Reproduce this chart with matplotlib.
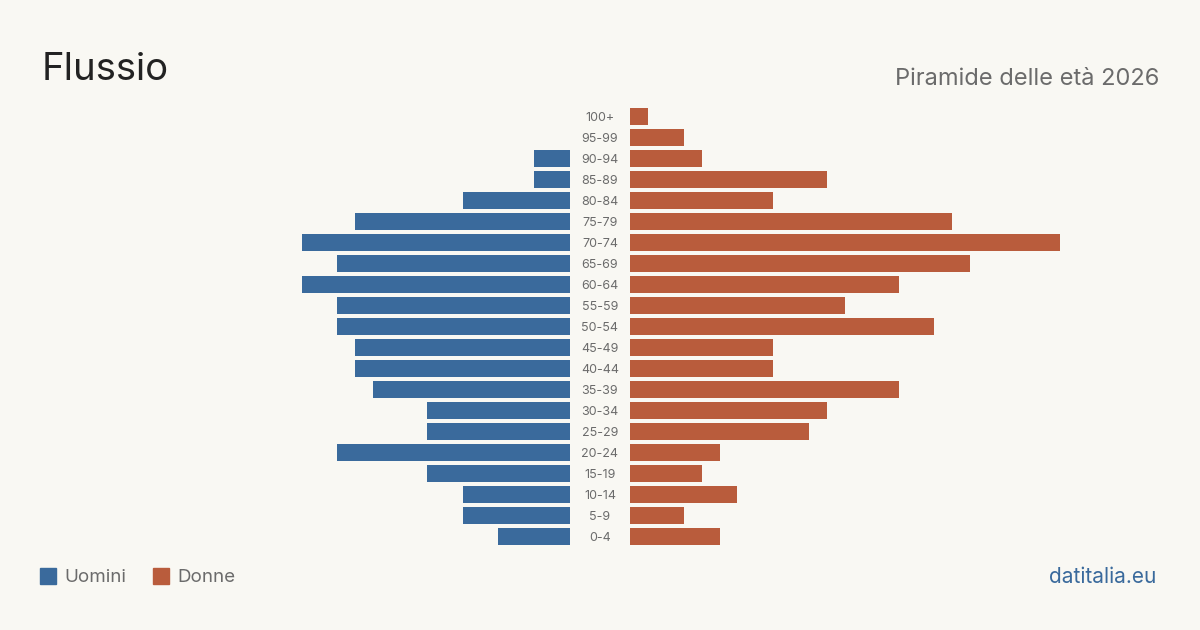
import matplotlib
matplotlib.use("Agg")
import matplotlib.pyplot as plt
from matplotlib import transforms
from matplotlib.patches import Rectangle

# age classes, top to bottom
classi = ["100+", "95-99", "90-94", "85-89", "80-84", "75-79", "70-74", "65-69",
          "60-64", "55-59", "50-54", "45-49", "40-44", "35-39", "30-34", "25-29",
          "20-24", "15-19", "10-14", "5-9", "0-4"]
uomini = [0, 0, 2, 2, 6, 12, 15, 13, 15, 13, 13, 12, 12, 11, 8, 8, 13, 8, 6, 6, 4]
donne = [1, 3, 4, 11, 8, 18, 24, 19, 15, 12, 17, 8, 8, 15, 11, 10, 5, 4, 6, 3, 5]

BG = "#f9f8f3"
BLUE = "#3a6a9c"
ORANGE = "#b95c3c"
GREY = "#6b6b6b"

plt.rcParams["font.family"] = ["Inter", "DejaVu Sans"]

fig = plt.figure(figsize=(12, 6.3), dpi=100, facecolor=BG)
W, H = 1200, 630

def px_axes(x0, x1, y_top, y_bot):
    return fig.add_axes([x0 / W, (H - y_bot) / H, (x1 - x0) / W, (y_bot - y_top) / H])

xmax = 24
span = 17.9 * xmax
ax_l = px_axes(570 - span, 570, 106, 547)
ax_r = px_axes(630, 630 + span, 106, 547)

pos = list(range(len(classi)))
ax_l.barh(pos, uomini, height=0.81, color=BLUE)
ax_r.barh(pos, donne, height=0.81, color=ORANGE)

ax_l.set_xlim(xmax, 0)
ax_r.set_xlim(0, xmax)
for ax in (ax_l, ax_r):
    ax.set_ylim(len(classi) - 0.5, -0.5)
    ax.set_facecolor("none")
    ax.axis("off")

tr = transforms.blended_transform_factory(fig.transFigure, ax_r.transData)
for i, c in enumerate(classi):
    fig.text(600 / W, i + 0.05, c, transform=tr, ha="center", va="center",
             fontsize=9, color=GREY)

fig.text(42 / W, 1 - 80 / H, "Flussio", fontsize=27.5, color="#222222",
         ha="left", va="baseline")
fig.text(1159 / W, 1 - 85 / H, "Piramide delle età 2026", fontsize=17,
         color=GREY, ha="right", va="baseline")

# legend
for x, col, lab in [(40, BLUE, "Uomini"), (153, ORANGE, "Donne")]:
    fig.patches.append(Rectangle((x / W, 1 - 584 / H), 16 / W, 16 / H,
                                 transform=fig.transFigure, color=col))
    fig.text((x + 24) / W, 1 - 577 / H, lab, fontsize=13.5, color=GREY,
             ha="left", va="center")

fig.text(1156 / W, 1 - 577 / H, "datitalia.eu", fontsize=15, color=BLUE,
         ha="right", va="center")

fig.savefig("out.png", dpi=100, facecolor=BG)
